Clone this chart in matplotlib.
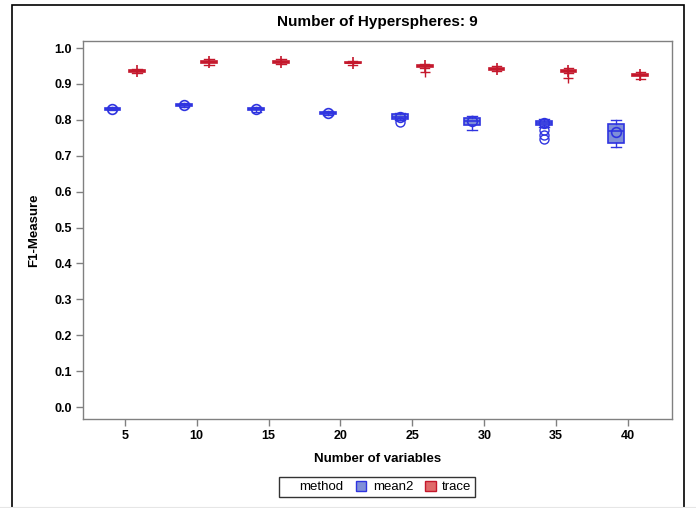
import matplotlib
matplotlib.use("Agg")
import matplotlib.pyplot as plt
from matplotlib.patches import Patch, Rectangle
from matplotlib.lines import Line2D

plt.rcParams['font.family'] = ['Liberation Sans', 'DejaVu Sans']

categories = [5, 10, 15, 20, 25, 30, 35, 40]

# mean2 group box statistics
m2_q1   = [0.828, 0.838, 0.826, 0.816, 0.802, 0.787, 0.785, 0.736]
m2_med  = [0.830, 0.841, 0.830, 0.819, 0.809, 0.797, 0.791, 0.770]
m2_q3   = [0.833, 0.843, 0.834, 0.822, 0.815, 0.806, 0.797, 0.788]
m2_lo   = [0.826, 0.835, 0.823, 0.813, 0.800, 0.773, 0.781, 0.725]
m2_hi   = [0.836, 0.847, 0.837, 0.825, 0.818, 0.810, 0.801, 0.799]
m2_mean = [0.831, 0.841, 0.830, 0.819, 0.808, 0.797, 0.790, 0.767]
m2_out  = [[], [], [], [], [0.794], [], [0.772, 0.759, 0.747], []]

# trace group box statistics
tr_q1   = [0.934, 0.959, 0.959, 0.957, 0.948, 0.940, 0.934, 0.923]
tr_med  = [0.936, 0.961, 0.962, 0.959, 0.950, 0.942, 0.936, 0.926]
tr_q3   = [0.938, 0.963, 0.965, 0.961, 0.952, 0.944, 0.938, 0.929]
tr_lo   = [0.930, 0.953, 0.955, 0.953, 0.944, 0.936, 0.930, 0.914]
tr_hi   = [0.941, 0.968, 0.970, 0.963, 0.955, 0.949, 0.944, 0.933]
tr_mean = [0.936, 0.961, 0.962, 0.958, 0.950, 0.942, 0.936, 0.926]
tr_out  = [[], [], [], [], [0.933], [], [0.917], []]

blue_fill, blue_edge = '#7f8fd8', '#2f34e0'
red_fill, red_edge = '#e06a6a', '#c4182c'

fig = plt.figure(figsize=(6.96, 5.08), dpi=100)
ax = fig.add_axes([83/696, 1-419/508, 589/696, 378/508])

def stats(q1, med, q3, lo, hi, mean, out):
    return [dict(q1=a, med=b, q3=c, whislo=d, whishi=e, mean=f, fliers=g)
            for a, b, c, d, e, f, g in zip(q1, med, q3, lo, hi, mean, out)]

pos = list(range(len(categories)))
off = 0.17
w = 0.22

ax.bxp(stats(m2_q1, m2_med, m2_q3, m2_lo, m2_hi, m2_mean, m2_out),
       positions=[p - off for p in pos], widths=w, patch_artist=True,
       showmeans=True, showfliers=True, manage_ticks=False,
       boxprops=dict(facecolor=blue_fill, edgecolor=blue_edge, linewidth=1.2),
       medianprops=dict(color=blue_edge, linewidth=1.2),
       whiskerprops=dict(color=blue_edge, linewidth=1),
       capprops=dict(color=blue_edge, linewidth=1),
       capwidths=w * 0.6,
       meanprops=dict(marker='o', markerfacecolor='none', markeredgecolor=blue_edge,
                      markersize=7, markeredgewidth=1.2),
       flierprops=dict(marker='o', markerfacecolor='none', markeredgecolor=blue_edge,
                       markersize=6.5, markeredgewidth=1.0))

ax.bxp(stats(tr_q1, tr_med, tr_q3, tr_lo, tr_hi, tr_mean, tr_out),
       positions=[p + off for p in pos], widths=w, patch_artist=True,
       showmeans=True, showfliers=True, manage_ticks=False,
       boxprops=dict(facecolor=red_fill, edgecolor=red_edge, linewidth=1.2),
       medianprops=dict(color=red_edge, linewidth=1.2),
       whiskerprops=dict(color=red_edge, linewidth=1),
       capprops=dict(color=red_edge, linewidth=1),
       capwidths=w * 0.6,
       meanprops=dict(marker='+', markeredgecolor=red_edge,
                      markersize=8, markeredgewidth=1.2),
       flierprops=dict(marker='+', markeredgecolor=red_edge,
                       markersize=6.5, markeredgewidth=1.0))

ax.set_xlim(-0.58, 7.61)
ax.set_ylim(-0.033, 1.0195)
ax.set_xticks(pos)
ax.set_xticklabels([str(c) for c in categories])
ax.set_yticks([i / 10 for i in range(11)])
ax.set_yticklabels([f"{i/10:.1f}" for i in range(11)])
for lab in ax.get_xticklabels() + ax.get_yticklabels():
    lab.set_fontweight('bold')
    lab.set_fontsize(9)
ax.tick_params(axis='both', direction='out', length=5, color='#808080', width=1, pad=3)
for s in ax.spines.values():
    s.set_color('#808080')
    s.set_linewidth(1)

ax.set_xlabel('Number of variables', fontsize=9.5, fontweight='bold', labelpad=8)
ax.set_ylabel('F1-Measure', fontsize=9.5, fontweight='bold', labelpad=10)
ax.set_title('Number of Hyperspheres: 9', fontsize=11, fontweight='bold', pad=11)

handles = [Line2D([], [], linestyle='none'),
           Patch(facecolor=blue_fill, edgecolor=blue_edge),
           Patch(facecolor=red_fill, edgecolor=red_edge)]
labels = ['method', 'mean2', 'trace']
leg = fig.legend(handles, labels, loc='center', bbox_to_anchor=(377/696, 1-487/508),
                 ncol=3, frameon=True, fancybox=False, fontsize=9.5,
                 handlelength=0.8, handleheight=0.8, handletextpad=0.5,
                 columnspacing=0.9, borderpad=0.25, borderaxespad=0)
leg.get_frame().set_edgecolor('black')
leg.get_frame().set_linewidth(1)

fig.patches.append(Rectangle((12/696, -0.05), 672/696, 1.05 - 5/508,
                             transform=fig.transFigure, fill=False,
                             edgecolor='black', linewidth=1.2))
fig.add_artist(Line2D([0, 1], [0.5/508, 0.5/508], transform=fig.transFigure,
                      color='#e6e6e6', linewidth=1.5))

fig.savefig('out.png', dpi=100)
